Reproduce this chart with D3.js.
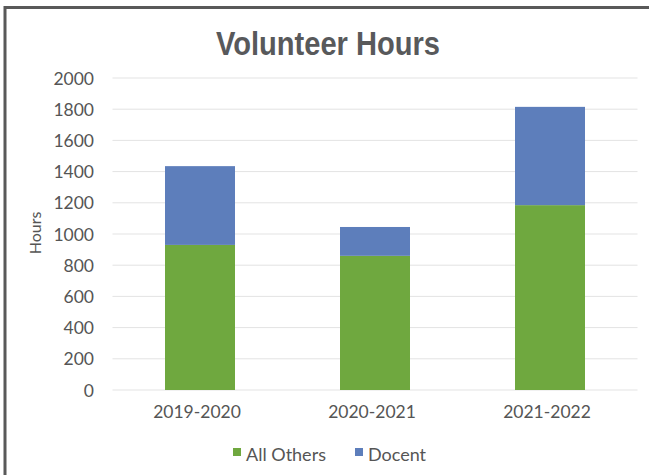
<!DOCTYPE html>
<html>
<head>
<meta charset="utf-8">
<script src="https://cdn.jsdelivr.net/npm/d3@7"></script>
<style>
  html, body { margin: 0; padding: 0; background: #ffffff; }
  svg { display: block; }
</style>
</head>
<body>
<svg id="chart" width="649" height="475"></svg>
<script>
const categories = ["2019-2020", "2020-2021", "2021-2022"];
const allOthers = [930, 860, 1185];
const docent = [505, 185, 630];
const seriesNames = ["All Others", "Docent"];
const seriesColors = ["#6fa83f", "#5d7ebb"];
const yTicks = [0, 200, 400, 600, 800, 1000, 1200, 1400, 1600, 1800, 2000];

(function () {
const svg = d3.select("#chart");
const W = 649, H = 475;
const pLeft = 112.5, pRight = 637.5, pTop = 78, pBottom = 390;
const font = "Lato, 'Open Sans', sans-serif";
const textColor = "#555555";

// frame
svg.append("rect").attr("x", 0).attr("y", 0).attr("width", W).attr("height", H).attr("fill", "#fff");
svg.append("path").attr("d", `M5,${H} L5,7.5 L${W},7.5`).attr("fill", "none")
  .attr("stroke", "#595959").attr("stroke-width", 3);

const x = d3.scaleBand().domain(categories).range([pLeft, pRight]).paddingInner(0.6).paddingOuter(0.3);
const y = d3.scaleLinear().domain([0, 2000]).range([pBottom, pTop]);

// gridlines
svg.append("g").selectAll("line").data(yTicks).join("line")
  .attr("x1", pLeft).attr("x2", pRight)
  .attr("y1", d => y(d)).attr("y2", d => y(d))
  .attr("stroke", "#e3e3e3").attr("stroke-width", 1);

// stacked bars
const rows = categories.map((c, i) => ({cat: c, "All Others": allOthers[i], "Docent": docent[i]}));
const stack = d3.stack().keys(seriesNames)(rows);
svg.append("g").selectAll("g").data(stack).join("g")
  .attr("fill", (d, i) => seriesColors[i])
  .selectAll("rect").data(d => d).join("rect")
  .attr("x", d => x(d.data.cat))
  .attr("width", x.bandwidth())
  .attr("y", d => y(d[1]))
  .attr("height", d => y(d[0]) - y(d[1]));

// y axis
const yAxis = d3.axisLeft(y).tickValues(yTicks).tickSize(0).tickPadding(0).tickFormat(d3.format("d"));
const yg = svg.append("g").attr("transform", `translate(94,0)`).call(yAxis);
yg.select(".domain").remove();
yg.selectAll("text").attr("font-family", font).attr("font-size", 17.5)
  .attr("fill", textColor).attr("dy", "0.35em");

// x axis
const xAxis = d3.axisBottom(x).tickSize(0).tickPadding(0);
const xg = svg.append("g").attr("transform", `translate(0,${pBottom + 22})`).call(xAxis);
xg.select(".domain").remove();
xg.selectAll("text").attr("font-family", font).attr("font-size", 17.5)
  .attr("fill", textColor).attr("dy", "0.35em").attr("dx", -3);

// y title
svg.append("text").attr("transform", `translate(41,233) rotate(-90)`)
  .attr("text-anchor", "middle").attr("font-family", font)
  .attr("font-size", 16).attr("fill", textColor).text("Hours");

// title
svg.append("text").attr("x", 216).attr("y", 55)
  .attr("font-family", "'Liberation Sans', Arial, sans-serif")
  .attr("font-weight", "bold").attr("font-size", 34).attr("fill", "#58595b")
  .attr("textLength", 224).attr("lengthAdjust", "spacingAndGlyphs")
  .text("Volunteer Hours");

// legend
const legendItems = [{name: seriesNames[0], color: seriesColors[0], x: 233}, {name: seriesNames[1], color: seriesColors[1], x: 355}];
const lg = svg.append("g").selectAll("g").data(legendItems).join("g")
  .attr("transform", d => `translate(${d.x},448)`);
lg.append("rect").attr("width", 8).attr("height", 8).attr("fill", d => d.color);
lg.append("text").attr("x", 13).attr("y", 13)
  .attr("font-family", font).attr("font-size", 18)
  .attr("fill", textColor).text(d => d.name);
})();
</script>
</body>
</html>
